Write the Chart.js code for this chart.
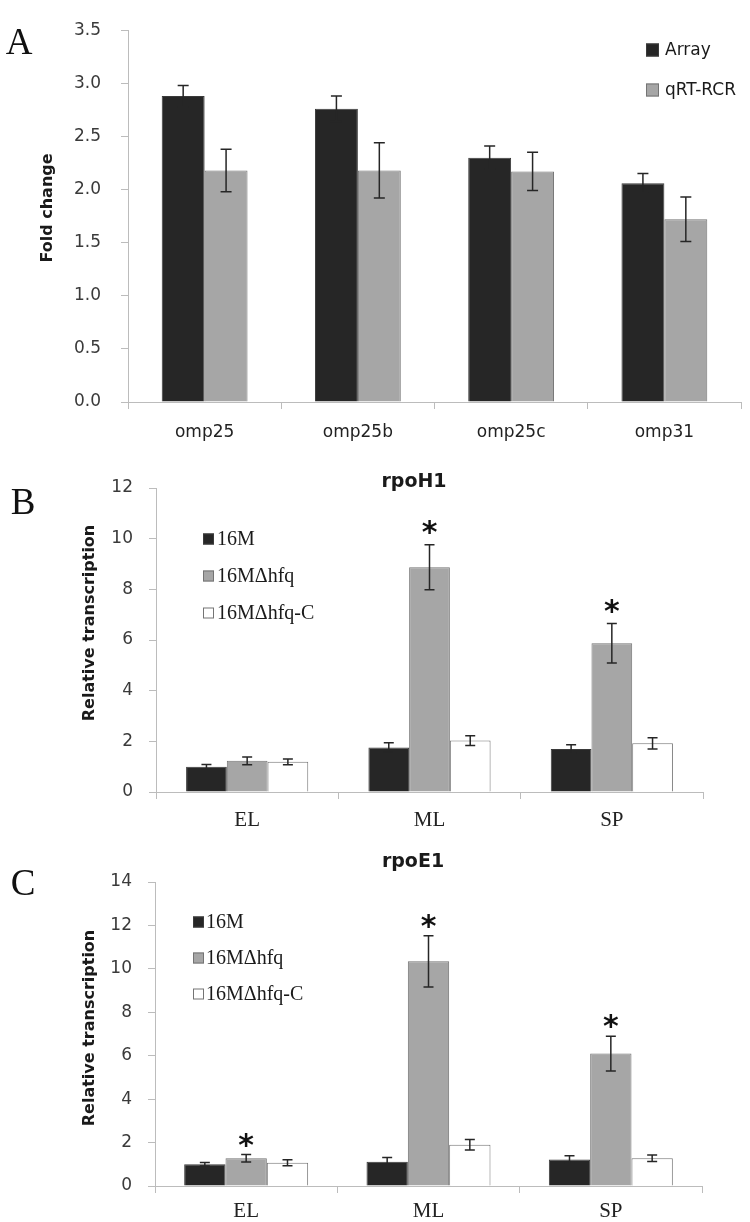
<!DOCTYPE html>
<html><head><meta charset="utf-8">
<script src="https://cdn.jsdelivr.net/npm/chart.js@4.4.1/dist/chart.umd.min.js"></script>
<style>
html,body{margin:0;padding:0;background:#fff;width:750px;height:1222px;overflow:hidden}
canvas{position:absolute;left:0}
</style></head><body>
<canvas id="cA" width="750" height="460" style="top:0px"></canvas>
<canvas id="cB" width="750" height="370" style="top:460px"></canvas>
<canvas id="cC" width="750" height="392" style="top:830px"></canvas>
<script>
// ---------- Panel A data ----------
const genesA = ['omp25', 'omp25b', 'omp25c', 'omp31'];
const arrayVals = [2.88, 2.76, 2.30, 2.06];
const arrayErr  = [0.10, 0.12, 0.11, 0.09];
const qrtVals   = [2.18, 2.18, 2.17, 1.72];
const qrtErr    = [0.20, 0.26, 0.18, 0.21];
const yTicksA   = [0, 0.5, 1.0, 1.5, 2.0, 2.5, 3.0, 3.5];

// ---------- Panel B data (rpoH1) ----------
const phases   = ['EL', 'ML', 'SP'];
const h1_16M   = [1.00, 1.76, 1.70];
const h1_16Me  = [0.09, 0.18, 0.17];
const h1_hfq   = [1.23, 8.87, 5.87];
const h1_hfqe  = [0.15, 0.89, 0.78];
const h1_C     = [1.19, 2.03, 1.92];
const h1_Ce    = [0.11, 0.19, 0.22];
const h1_sig   = [false, true, true];
const yTicksB  = [0, 2, 4, 6, 8, 10, 12];

// ---------- Panel C data (rpoE1) ----------
const e1_16M   = [1.00, 1.12, 1.22];
const e1_16Me  = [0.08, 0.19, 0.17];
const e1_hfq   = [1.28, 10.35, 6.10];
const e1_hfqe  = [0.17, 1.18, 0.80];
const e1_C     = [1.07, 1.90, 1.28];
const e1_Ce    = [0.14, 0.24, 0.15];
const e1_sig   = [true, true, true];
const yTicksC  = [0, 2, 4, 6, 8, 10, 12, 14];

const DARK = '#262626', GREY = '#a6a6a6', WHITE = '#ffffff';
const AXIS = '#bcbcbc';
Chart.defaults.font.family = '"DejaVu Sans", sans-serif';

const extras = {
  id: 'extras',
  afterDatasetsDraw(chart, args, o) {
    const ctx = chart.ctx, ys = chart.scales.y;
    ctx.save();
    chart.data.datasets.forEach((ds, i) => {
      const meta = chart.getDatasetMeta(i);
      meta.data.forEach((bar, j) => {
        const v = ds.data[j], e = ds.err[j], x = bar.x;
        const yt = ys.getPixelForValue(v + e), yb = ys.getPixelForValue(v - e);
        ctx.strokeStyle = '#262626'; ctx.lineWidth = 1.5;
        ctx.beginPath();
        ctx.moveTo(x, yt); ctx.lineTo(x, yb);
        ctx.moveTo(x - o.cap / 2, yt); ctx.lineTo(x + o.cap / 2, yt);
        ctx.moveTo(x - o.cap / 2, yb); ctx.lineTo(x + o.cap / 2, yb);
        ctx.stroke();
        if (ds.sig && ds.sig[j]) {
          ctx.fillStyle = '#111';
          ctx.font = 'bold 30px "DejaVu Sans"';
          ctx.textAlign = 'center'; ctx.textBaseline = 'alphabetic';
          ctx.fillText('*', x, yt - o.starGap + 17);
        }
      });
    });
    ctx.restore();
  },
  afterDraw(chart, args, o) {
    const ctx = chart.ctx;
    ctx.save();
    // panel letter
    ctx.fillStyle = '#111';
    ctx.font = '37px "Liberation Serif"';
    ctx.textAlign = 'center'; ctx.textBaseline = 'middle';
    ctx.fillText(o.letter.text, o.letter.x, o.letter.y);
    // chart title
    if (o.title) {
      ctx.font = 'bold 19px "DejaVu Sans"';
      ctx.fillStyle = '#1a1a1a';
      ctx.fillText(o.title.text, o.title.x, o.title.y);
    }
    // y title
    ctx.translate(o.yTitle.x, o.yTitle.y);
    ctx.rotate(-Math.PI / 2);
    ctx.font = 'bold 16px "DejaVu Sans"';
    ctx.fillStyle = '#1a1a1a';
    ctx.fillText(o.yTitle.text, 0, 0);
    ctx.setTransform(1, 0, 0, 1, 0, 0);
    // legend
    const L = o.legend;
    ctx.font = L.font;
    ctx.textAlign = 'left'; ctx.textBaseline = 'middle';
    chart.data.datasets.forEach((ds, i) => {
      const cy = L.y + i * L.gap;
      ctx.fillStyle = ds.backgroundColor;
      ctx.fillRect(L.x, cy - L.box / 2, L.box, L.box);
      ctx.strokeStyle = ds.borderColor; ctx.lineWidth = 1;
      ctx.strokeRect(L.x + 0.5, cy - L.box / 2 + 0.5, L.box - 1, L.box - 1);
      ctx.fillStyle = '#1a1a1a';
      ctx.fillText(ds.label, L.x + L.box + L.textGap, cy + 1);
    });
    ctx.restore();
  }
};

function axisX(h, pad, fontSpec) {
  return {
    type: 'category',
    offset: true,
    grid: { offset: true, drawOnChartArea: false, drawTicks: true, tickLength: 7, color: AXIS },
    border: { color: AXIS, width: 1 },
    ticks: { padding: pad, color: '#222', font: fontSpec },
    afterFit: s => { s.height = h; }
  };
}
function axisY(ticksArr, w, pad, dec) {
  return {
    min: ticksArr[0], max: ticksArr[ticksArr.length - 1],
    grid: { drawOnChartArea: false, drawTicks: true, tickLength: 7, color: AXIS },
    border: { color: AXIS, width: 1 },
    ticks: { padding: pad, color: '#3a3a3a', font: { size: 17 }, callback: v => Number(v).toFixed(dec) },
    afterBuildTicks: s => { s.ticks = ticksArr.map(v => ({ value: v })); },
    afterFit: s => { s.width = w; }
  };
}
function barDs(label, data, err, fill, border, sig) {
  return { label, data, err, sig, backgroundColor: fill, borderColor: border, borderWidth: 1,
           barPercentage: 1.0 };
}

// Panel A
new Chart(document.getElementById('cA'), {
  type: 'bar',
  data: {
    labels: genesA,
    datasets: [
      Object.assign(barDs('Array', arrayVals, arrayErr, DARK, '#3a3a3a'), { categoryPercentage: 0.56 }),
      Object.assign(barDs('qRT-RCR', qrtVals, qrtErr, GREY, '#747474'), { categoryPercentage: 0.56 })
    ]
  },
  options: {
    responsive: false, animation: false, devicePixelRatio: 1,
    layout: { padding: { left: 0, right: 9, top: 16, bottom: 0 } },
    scales: { x: axisX(58, 13, { size: 17 }), y: axisY(yTicksA, 128, 20, 1) },
    plugins: {
      legend: { display: false }, tooltip: { enabled: false },
      extras: {
        cap: 11, starGap: 19,
        letter: { text: 'A', x: 19, y: 44 },
        yTitle: { text: 'Fold change', x: 48, y: 208 },
        legend: { x: 646, y: 50, gap: 40, box: 13, textGap: 6, font: '17px "DejaVu Sans"' }
      }
    }
  },
  plugins: [extras]
});

// Panel B
new Chart(document.getElementById('cB'), {
  type: 'bar',
  data: {
    labels: phases,
    datasets: [
      Object.assign(barDs('16M', h1_16M, h1_16Me, DARK, '#3a3a3a'), { categoryPercentage: 0.67 }),
      Object.assign(barDs('16MΔhfq', h1_hfq, h1_hfqe, GREY, '#747474', h1_sig), { categoryPercentage: 0.67 }),
      Object.assign(barDs('16MΔhfq-C', h1_C, h1_Ce, WHITE, '#747474'), { categoryPercentage: 0.67 })
    ]
  },
  options: {
    responsive: false, animation: false, devicePixelRatio: 1,
    layout: { padding: { left: 0, right: 47, top: 28, bottom: 0 } },
    scales: { x: axisX(38, 9, { size: 21, family: '"Liberation Serif"' }), y: axisY(yTicksB, 156, 16, 0) },
    plugins: {
      legend: { display: false }, tooltip: { enabled: false },
      extras: {
        cap: 10, starGap: 20,
        letter: { text: 'B', x: 23, y: 44 },
        title: { text: 'rpoH1', x: 414, y: 22 },
        yTitle: { text: 'Relative transcription', x: 90, y: 163 },
        legend: { x: 203, y: 79, gap: 37, box: 11, textGap: 3, font: '20px "Liberation Serif"' }
      }
    }
  },
  plugins: [extras]
});

// Panel C
new Chart(document.getElementById('cC'), {
  type: 'bar',
  data: {
    labels: phases,
    datasets: [
      Object.assign(barDs('16M', e1_16M, e1_16Me, DARK, '#3a3a3a'), { categoryPercentage: 0.68 }),
      Object.assign(barDs('16MΔhfq', e1_hfq, e1_hfqe, GREY, '#747474', e1_sig), { categoryPercentage: 0.68 }),
      Object.assign(barDs('16MΔhfq-C', e1_C, e1_Ce, WHITE, '#747474'), { categoryPercentage: 0.68 })
    ]
  },
  options: {
    responsive: false, animation: false, devicePixelRatio: 1,
    layout: { padding: { left: 0, right: 48, top: 52, bottom: 0 } },
    scales: { x: axisX(36, 6, { size: 21, family: '"Liberation Serif"' }), y: axisY(yTicksC, 155, 16, 0) },
    plugins: {
      legend: { display: false }, tooltip: { enabled: false },
      extras: {
        cap: 10, starGap: 17,
        letter: { text: 'C', x: 23, y: 55 },
        title: { text: 'rpoE1', x: 413, y: 32 },
        yTitle: { text: 'Relative transcription', x: 90, y: 198 },
        legend: { x: 193, y: 92, gap: 36, box: 11, textGap: 2, font: '20px "Liberation Serif"' }
      }
    }
  },
  plugins: [extras]
});
</script>
</body></html>
